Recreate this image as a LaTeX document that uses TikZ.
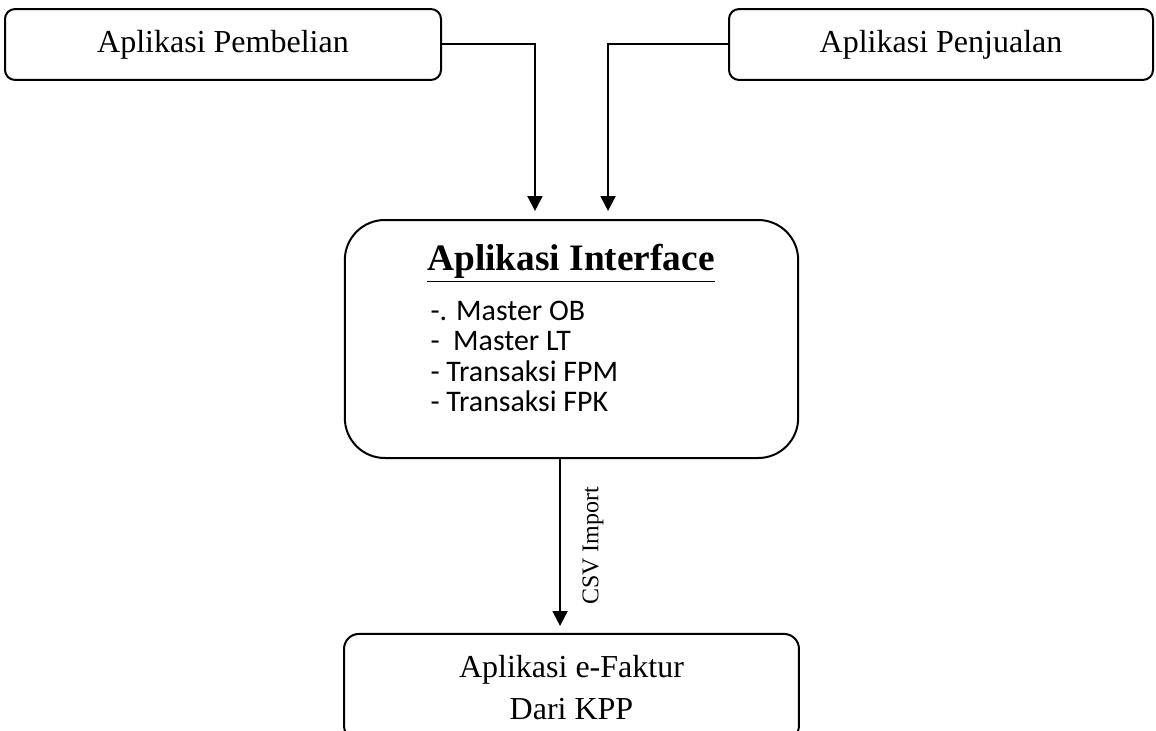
\documentclass[tikz,border=0pt]{standalone}
\usepackage{fontspec}
\setmainfont{Liberation Serif}
\newfontfamily\listfont{Carlito}
\usepackage{tikz}
\usetikzlibrary{positioning}
\usetikzlibrary{arrows.meta}

\tikzset{
  app/.style={draw, line width=0.75pt, rounded corners=3.75pt, align=center,
    font=\fontsize{12}{15.75}\selectfont},
  link/.style={-{Triangle[width=5.6pt,length=5.6pt]}, line width=0.75pt},
}

\begin{document}
\begin{tikzpicture}[x=0.375pt,y=-0.375pt,node distance=269.25pt,on grid]
   \useasboundingbox (0,0) rectangle (1156,731);
   \node[app, minimum width=163.5pt, minimum height=26.6pt] (a_beli) at (223,44.5) {Aplikasi Pembelian};
   \node[app, minimum width=159pt, minimum height=26.6pt] (a_jual) [right=of a_beli] {Aplikasi Penjualan};
   \node[app, rounded corners=15pt, minimum width=170pt, minimum height=89.25pt] (a_iface) at (571.5,339) {};
   \node[app, rounded corners=5.6pt, minimum width=170.6pt, minimum height=40pt] (a_faktur) [below=130.6pt of a_iface] {Aplikasi e-Faktur\\Dari KPP};
   \node[anchor=base, font=\fontsize{14}{16}\selectfont\bfseries] (t_iface) at (571,270) {\underline{Aplikasi Interface}};
   \foreach \t [count=\i] in {-. Master OB, -~ Master LT, - Transaksi FPM, - Transaksi FPK}
     \node[anchor=base west, inner sep=0pt, font=\listfont\fontsize{11.2}{14}\selectfont] (l_\i) at (430,289.5+30.5*\i) {\t};
    \path[link]
    (a_beli.east) edge [to path={-| (\tikztotarget)}, shorten >=3pt] ([xshift=-13.7pt]a_iface.north)
    (a_jual.west) edge [to path={-| (\tikztotarget)}, shorten >=3pt] ([xshift=13.7pt]a_iface.north)
    ([xshift=-4.3pt]a_iface.south) edge [shorten >=2.6pt] node [rotate=90, anchor=north, inner sep=8pt, font=\fontsize{9}{11}\selectfont] {CSV Import} ([xshift=-4.3pt]a_faktur.north);
\end{tikzpicture}
\end{document}
